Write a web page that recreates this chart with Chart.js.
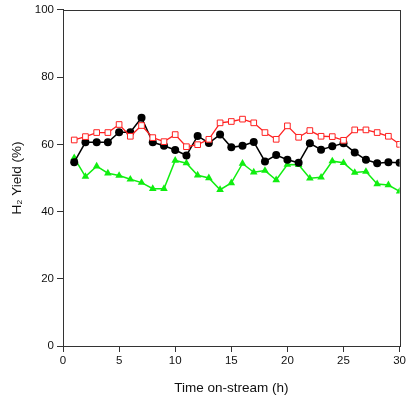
<!DOCTYPE html>
<html>
<head>
<meta charset="utf-8">
<script src="https://cdn.jsdelivr.net/npm/chart.js@4"></script>
<style>
html,body{margin:0;padding:0;background:#fff;}
#wrap{width:408px;height:396px;}
</style>
</head>
<body>
<div id="wrap"><canvas id="c" width="408" height="396"></canvas></div>
<script>
const hours = [1,2,3,4,5,6,7,8,9,10,11,12,13,14,15,16,17,18,19,20,21,22,23,24,25,26,27,28,29,30];
const redSquares = [61.3,62.3,63.5,63.5,65.9,62.4,65.6,62.0,60.8,62.9,59.3,59.9,61.5,66.4,66.8,67.5,66.4,63.5,61.5,65.5,62.1,64.1,62.4,62.3,61.2,64.3,64.3,63.5,62.4,60.0];
const blackCircles = [54.7,60.6,60.6,60.6,63.6,63.6,67.9,60.6,59.6,58.3,56.7,62.5,60.4,62.9,59.1,59.6,60.7,54.9,56.8,55.4,54.5,60.3,58.4,59.4,60.3,57.6,55.4,54.4,54.7,54.5];
const greenTriangles = [56.0,50.4,53.5,51.4,50.7,49.6,48.6,46.8,46.8,55.2,54.4,50.8,50.0,46.5,48.5,54.3,51.7,52.2,49.4,54.0,53.9,49.9,50.2,55.0,54.5,51.6,51.9,48.2,47.9,46.0];
const xTicks = [0,5,10,15,20,25,30];
const yTicks = [0,20,40,60,80,100];

function pts(arr){ return hours.map((h,i)=>({x:h,y:arr[i]})); }

const frame = {
  id:'frame',
  afterDraw(chart){
    const a = chart.chartArea, ctx = chart.ctx;
    ctx.save();
    ctx.strokeStyle = '#333';
    ctx.lineWidth = 1;
    ctx.strokeRect(Math.round(a.left)+0.5, Math.round(a.top)+0.5, Math.round(a.right-a.left), Math.round(a.bottom-a.top));
    ctx.restore();
  }
};

const font = {family:"'Liberation Sans', Arial, sans-serif", size:11.5};

new Chart(document.getElementById('c'), {
  type:'line',
  data:{
    datasets:[
      {label:'red', data:pts(redSquares), borderColor:'#ff2020', borderWidth:1.3, pointStyle:'rect', pointRadius:4, pointBackgroundColor:'#fff', pointBorderColor:'#ff2020', pointBorderWidth:1, tension:0},
      {label:'black', data:pts(blackCircles), borderColor:'#000', borderWidth:1.5, pointStyle:'circle', pointRadius:4, pointBackgroundColor:'#000', pointBorderColor:'#000', pointBorderWidth:0, tension:0},
      {label:'green', data:pts(greenTriangles), borderColor:'#10ee10', borderWidth:1.5, pointStyle:'triangle', pointRadius:4.4, pointBackgroundColor:'#10ee10', pointBorderColor:'#10ee10', pointBorderWidth:0, tension:0}
    ]
  },
  options:{
    responsive:false,
    animation:false,
    devicePixelRatio:1,
    layout:{padding:{top:9,right:6,left:0,bottom:0}},
    plugins:{legend:{display:false},tooltip:{enabled:false}},
    scales:{
      x:{
        type:'linear', min:0, max:30,
        afterBuildTicks(s){ s.ticks = xTicks.map(v=>({value:v})); },
        afterFit(s){ s.height = 50; },
        grid:{drawOnChartArea:false, tickLength:6, color:'#333'},
        border:{color:'#333'},
        ticks:{color:'#111', font:font, padding:2, maxRotation:0},
        title:{display:true, text:'Time on-stream (h)', color:'#111', font:{family:font.family,size:13.5}, padding:{top:5,bottom:0}}
      },
      y:{
        min:0, max:100,
        afterBuildTicks(s){ s.ticks = yTicks.map(v=>({value:v})); },
        afterFit(s){ s.width = 63; },
        grid:{drawOnChartArea:false, tickLength:6, color:'#333'},
        border:{color:'#333'},
        ticks:{color:'#111', font:font, padding:3},
        title:{display:true, text:'H₂ Yield (%)', color:'#111', font:{family:font.family,size:13.5}, padding:{top:9,bottom:0}}
      }
    }
  },
  plugins:[frame]
});
</script>
</body>
</html>
